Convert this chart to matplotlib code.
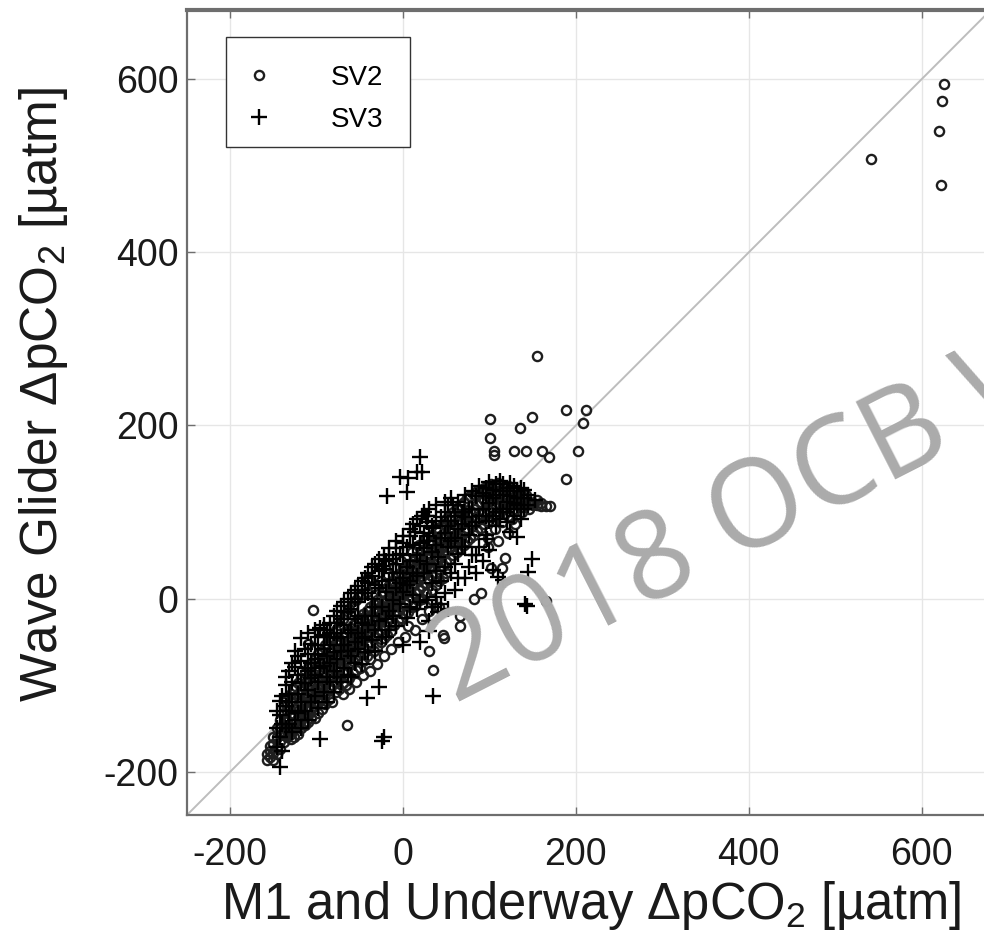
import matplotlib
matplotlib.use("Agg")
import matplotlib.pyplot as plt
from matplotlib.patches import Rectangle

plt.rcParams['font.family'] = ['Liberation Sans', 'DejaVu Sans']
plt.rcParams['mathtext.fontset'] = 'custom'
plt.rcParams['mathtext.rm'] = 'Liberation Sans'
plt.rcParams['mathtext.it'] = 'Liberation Sans:italic'
plt.rcParams['axes.unicode_minus'] = False

# --- SV2 (circles): M1/underway dpCO2 (x) and Wave Glider dpCO2 (y), uatm
# grouped as (x, (y values observed at that x))
sv2_groups = [
    (-158, (-186, -180)), (-154, (-183, -176, -170)), (-150, (-178, -168, -186, -160)),
    (-146, (-172, -160, -150, -180)), (-142, (-165, -150, -140, -174, -158)),
    (-138, (-158, -146, -132, -166, -120)), (-134, (-152, -140, -123, -160, -130)),
    (-130, (-148, -134, -156, -120, -110, -162)), (-126, (-142, -128, -150, -114, -104, -160)),
    (-122, (-138, -124, -146, -110, -130, -98, -156)), (-118, (-132, -118, -140, -104, -150, -92)),
    (-114, (-128, -112, -136, -98, -120, -146, -86)),
    (-110, (-124, -106, -134, -92, -115, -52, -142, -80)),
    (-106, (-118, -100, -128, -88, -110, -138, -76)), (-104, (-13,)),
    (-102, (-114, -96, -124, -82, -138, -70, -106)), (-98, (-108, -90, -120, -78, -100, -132, -64)),
    (-94, (-104, -86, -116, -72, -128, -60, -94)), (-90, (-98, -80, -110, -68, -90, -122, -54)),
    (-86, (-94, -76, -104, -62, -84, -116, -48)), (-82, (-88, -70, -100, -58, -120, -44, -80)),
    (-78, (-84, -66, -96, -52, -74, -108, -36)), (-77, (-48,)),
    (-74, (-80, -60, -90, -48, -70, -104, -30)), (-70, (-74, -56, -86, -44, -64, -98, -24, -110)),
    (-66, (-70, -52, -82, -40, -100, -60, -18)), (-65, (-146,)),
    (-62, (-66, -48, -76, -36, -58, -92, -12, -104)), (-58, (-62, -42, -72, -30, -52, -86, -8)),
    (-54, (-56, -38, -68, -26, -46, -82, -2, -96)), (-50, (-52, -34, -62, -22, -80, -44, 4)),
    (-46, (-48, -30, -58, -18, -40, -72, -88)), (-42, (-42, -24, -54, -14, -34, -66, 8)),
    (-40, (24,)), (-38, (-38, -20, -50, -10, -70, -30, -84)),
    (-34, (-34, -16, -44, -6, -26, -60, 14)), (-30, (-30, -12, -40, -2, -56, -22, -76)),
    (-26, (-24, -8, -36, 4, -18, -50, 20)), (-22, (-20, -4, -30, 8, -12, -46, -66)),
    (-18, (-16, 0, -26, 12, -42, -8, 28)), (-14, (-12, 6, -22, 16, -4, -38, -58)),
    (-10, (-8, 10, -18, 20, -30, 2, 36)), (-6, (-2, 14, -14, 26, 4, -26, -50)),
    (-2, (2, 18, -10, 30, -22, 8, 44)), (2, (6, 22, -6, 34, 12, -18, -44)),
    (6, (10, 28, -2, -16, 18, 40, -32)), (10, (14, 32, 2, 40, 22, -10, 54)),
    (14, (18, 36, 6, -8, 26, 48, -36)), (18, (22, 40, 10, 48, 30, -2, 62)),
    (22, (26, 44, 14, 0, 34, 56, -24)), (26, (30, 48, 18, 56, 38, 6, 70)),
    (30, (34, 52, 22, -60, 42, 64, -14)), (34, (38, 56, 26, 64, 10, 74, -2)), (35, (-83,)),
    (38, (44, 60, 30, 70, 50, 16, 82)), (42, (48, 64, 34, 20, 56, 78, -10)),
    (46, (52, 70, 38, -42, 60, 86, 24)), (47, (-46,)), (50, (56, 74, 42, 84, 30, 92)),
    (54, (60, 78, 46, 66, 96)), (58, (64, 82, 50, 72, 100)),
    (62, (70, 86, 54, 76, 104)), (66, (74, 90, -20, 58, -32, 108)),
    (70, (78, 94, 62, 112)), (74, (82, 98, 66, 88, 116)),
    (78, (86, 100, 70, 118)), (82, (90, 104, 74, 0, 120)),
    (86, (94, 108, 78, 124)), (90, (98, 112, 82, 7, 126)),
    (94, (100, 114, 86, 128)), (98, (104, 118, 90, 70, 60, 130)),
    (102, (106, 120, 94, 35, 132)), (106, (108, 122, 96, 80, 130)),
    (110, (110, 124, 100, 66, 134)), (114, (112, 126, 104, 35, 88)),
    (118, (114, 128, 104, 47, 130)), (122, (116, 130, 108, 95, 76)),
    (126, (116, 126, 110, 92)), (130, (118, 104, 112, 86)), (134, (120, 110, 108)),
    (138, (118, 106, 112, 100)), (142, (116, 108, 120)), (146, (112, 104)),
    (150, (110, 108)), (155, (114, 108)), (160, (110, 107)), (165, (107, -3)), (170, (107,)),
    # high group
    (101, (207, 185)), (105, (170, 166)), (128, (170,)), (135, (197,)), (142, (170,)),
    (149, (210,)), (155, (280,)), (161, (170,)), (169, (164,)), (188, (218,)),
    (189, (138,)), (202, (170,)), (208, (203,)), (212, (218,)),
    # far outliers
    (542, (508,)), (620, (540,)), (623, (478,)), (624, (575,)), (626, (595,)),
]

# --- SV3 (plus signs)
sv3_groups = [
    (-146, (-172, -150, -130)), (-142, (-195, -160, -135, -118)), (-140, (-176, -112, -145)),
    (-136, (-124, -150, -100, -90)), (-132, (-130, -110, -84, -145)),
    (-128, (-154, -96, -120, -74)), (-125, (-79, -140, -60)), (-122, (-110, -88, -132, -66)),
    (-118, (-150, -98, -46, -120, -72)), (-114, (-98, -80, -130, -58)),
    (-110, (-140, -84, -106, -40, -64)), (-106, (-74, -120, -92, -52)),
    (-102, (-88, -112, -70, -36, -54)), (-98, (-126, -64, -96, -44)), (-96, (-162, -80, -34)),
    (-92, (-78, -108, -58, -42, -30)), (-88, (-120, -66, -90, -44, -36)),
    (-84, (-54, -96, -74, -28, -40)), (-80, (-108, -62, -84, -40, -20)),
    (-76, (-70, -46, -90, -28, -14)), (-72, (-44, -96, -60, -24, -8)),
    (-68, (-80, -54, -30, -16, -4)), (-64, (-60, -88, -40, -16, 0)),
    (-60, (-36, -90, -66, -12, 6)), (-56, (-50, -74, -24, 0, 10)),
    (-52, (-4, -58, -40, -20, 14)), (-48, (-28, -76, -46, 10, 20)),
    (-44, (-44, -20, -62, 6, 24)), (-42, (-115,)), (-40, (6, -62, -30, 18, 30)),
    (-36, (-20, -48, 0, 26, 36)), (-32, (-36, -10, -60, 16, 40)),
    (-28, (12, -102, -26, 32, 46)), (-24, (-10, -164, -44, 20, 38)), (-22, (-160, 34, 50)),
    (-20, (-44, 8, -24, 44)), (-19, (119,)), (-16, (22, -14, -36, 50, 58)),
    (-12, (-2, 30, -20, 46)), (-8, (-32, 12, 40, 58, 66)), (-4, (30, -6, 18, 52)),
    (-3, (141,)), (0, (50, -54, 8, 24, 64, 72)), (4, (-22, 36, 16, 123, 60)), (6, (139,)),
    (8, (-10, 44, 20, 72, 80)), (12, (62, 4, 30, 86)), (14, (77,)),
    (16, (-12, 50, 26, 146, 92)), (20, (-4, 44, 64, -50, 164, 84)), (22, (96, 146)),
    (24, (58, 30, 76, 100)), (27, (96,)), (28, (-2, 40, 66, 88)), (29, (96,)),
    (30, (-38, 72, -26, 104)), (34, (18, 54, 84, -10)), (35, (-112, 81)),
    (38, (32, 62, 90, 108, 2)), (40, (-16, 48)), (44, (20, 70, 94, -6)),
    (48, (76, 36, 100, 112, 6)), (52, (60, 84, 108, -12)), (56, (30, 66, 90, 116)),
    (58, (108,)), (60, (10, 70, 96, 40)), (64, (52, 80, 112, 24)),
    (68, (86, 100, 60)), (70, (100,)), (72, (24, 60, 94, 120)),
    (76, (36, 74, 104)), (80, (104, 84, 124, 50)), (84, (50, 88, 118, 30)),
    (88, (96, 130, 60)), (92, (104, 122, 44)), (96, (96, 118, 128, 74)), (97, (69,)),
    (100, (135, 110, 90, 56)), (104, (33, 126, 116, 96)), (108, (132, 100, 120, 84)),
    (110, (25,)), (112, (104, 124, 136, 92)), (116, (21, 120, 132, 100)),
    (120, (100, 128, 112, 88)), (124, (77, 134, 118, 104)), (128, (96, 124, 110, 130)),
    (132, (71, 124, 108, 116)), (136, (92, 128, 116, 104)), (140, (116, 104, 126)),
    (141, (-6,)), (143, (-8,)), (145, (31, 108, 120)), (149, (46,)), (153, (114,)),
]

sv2_x = [x for x, ys in sv2_groups for _ in ys]
sv2_y = [y for _, ys in sv2_groups for y in ys]
sv3_x = [x for x, ys in sv3_groups for _ in ys]
sv3_y = [y for _, ys in sv3_groups for y in ys]

ticks = [-200, 0, 200, 400, 600]
xlim = (-250, 700)
ylim = (-250, 680)

W, H = 984, 946
fig = plt.figure(figsize=(W / 100, H / 100), dpi=100)
ax = fig.add_axes([187 / W, 131 / H, 821 / W, 805 / H])

ax.set_xlim(*xlim)
ax.set_ylim(*ylim)
ax.set_xticks(ticks)
ax.set_yticks(ticks)
ax.grid(True, color='#e6e6e6', linewidth=1.0, zorder=0)
ax.set_axisbelow(True)

# one-to-one reference line
ax.plot([-250, 700], [-250, 700], color='#bdbdbd', linewidth=1.4, zorder=1)

ax.plot(sv2_x, sv2_y, linestyle='none', marker='o', markersize=6.6,
        markerfacecolor='none', markeredgecolor='#1e1e1e', markeredgewidth=1.7,
        label='SV2', zorder=3)
ax.plot(sv3_x, sv3_y, linestyle='none', marker='+', markersize=12,
        color='black', markeredgewidth=1.7, label='SV3', zorder=4)

for s in ax.spines.values():
    s.set_color('#6e6e6e')
    s.set_linewidth(1.6)
ax.spines['top'].set_linewidth(3.0)

ax.tick_params(direction='in', length=6, width=1.0, color='#6e6e6e',
               top=True, right=True, labelsize=27, labelcolor='#1a1a1a')
ax.tick_params(axis='x', pad=16)
ax.tick_params(axis='y', pad=6)

ax.set_xlabel('M1 and Underway ΔpCO$_2$ [µatm]', fontsize=36.5, color='#1a1a1a', labelpad=4)
ax.set_ylabel('Wave Glider ΔpCO$_2$ [µatm]', fontsize=37, color='#1a1a1a', labelpad=24)
ax.xaxis.label.set_x(0.492)
ax.yaxis.label.set_y(0.522)

# legend box and entries
ax.add_patch(Rectangle((39 / 821, (815 - 147) / 805), 184 / 821, 110 / 805,
                       transform=ax.transAxes, facecolor='white',
                       edgecolor='#333333', linewidth=1.0, zorder=5))
leg = ax.legend(loc='center left', bbox_to_anchor=(63.7 / 821, (815 - 99) / 805),
                borderaxespad=0, borderpad=0, fontsize=20, frameon=False,
                handlelength=0.6, handletextpad=2.3, labelspacing=0.57)
leg.set_zorder(6)

# watermark
fig.text(455 / W, (H - 704) / H, '2018 OCB W', fontsize=88, family='Open Sans',
         color='#ababab', rotation=27, rotation_mode='anchor',
         ha='left', va='baseline', zorder=10)

fig.savefig('out.png', dpi=100)
